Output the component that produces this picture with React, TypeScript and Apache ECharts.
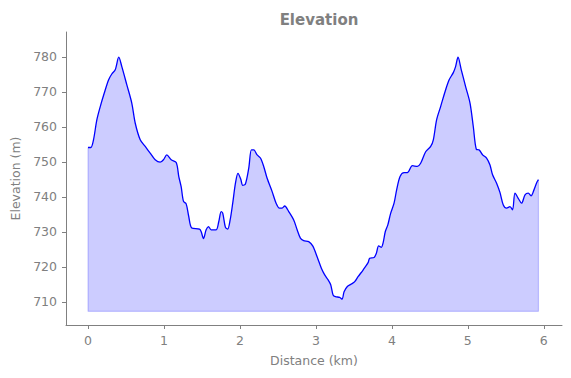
import React, { useEffect, useRef } from "react";
import * as echarts from "echarts";

const distanceKm = [
  0.0, 0.037, 0.072, 0.116, 0.161, 0.213, 0.27, 0.313, 0.358, 0.405, 0.445, 0.511, 0.576, 0.621, 0.687,
  0.753, 0.818, 0.884, 0.95, 0.993, 1.037, 1.095, 1.161, 1.195, 1.226, 1.257, 1.292, 1.326, 1.366, 1.467,
  1.489, 1.52, 1.555, 1.586, 1.621, 1.687, 1.721, 1.753, 1.774, 1.809, 1.839, 1.871, 1.905, 1.941, 1.974,
  2.01, 2.037, 2.072, 2.116, 2.151, 2.182, 2.226, 2.27, 2.313, 2.358, 2.424, 2.476, 2.52, 2.555, 2.589,
  2.642, 2.708, 2.753, 2.796, 2.839, 2.905, 2.958, 3.016, 3.072, 3.116, 3.161, 3.195, 3.226, 3.257, 3.313,
  3.345, 3.371, 3.414, 3.467, 3.511, 3.555, 3.621, 3.687, 3.708, 3.766, 3.796, 3.826, 3.862, 3.884, 3.914,
  3.947, 3.984, 4.029, 4.063, 4.108, 4.161, 4.204, 4.27, 4.336, 4.379, 4.445, 4.511, 4.546, 4.589, 4.642,
  4.708, 4.753, 4.809, 4.839, 4.871, 4.914, 4.971, 5.029, 5.072, 5.112, 5.151, 5.195, 5.247, 5.292, 5.326,
  5.379, 5.424, 5.467, 5.511, 5.555, 5.589, 5.621, 5.664, 5.708, 5.753, 5.796, 5.832, 5.871, 5.908, 5.93,
];

const elevationM = [
  754.1, 754.1, 756.3, 762.0, 765.8, 769.6, 773.4, 775.1, 776.3, 779.9, 777.2, 772.0, 766.8, 761.1, 756.3,
  754.4, 752.5, 750.6, 749.9, 750.6, 752.0, 750.6, 749.8, 745.8, 742.9, 738.7, 738.0, 734.4, 731.1, 730.8,
  730.1, 728.1, 730.6, 731.5, 730.6, 730.6, 732.9, 735.8, 735.3, 731.3, 730.8, 733.4, 738.2, 743.9, 746.7,
  745.1, 743.3, 743.7, 748.2, 753.4, 753.4, 752.0, 751.1, 748.7, 745.3, 741.5, 738.2, 736.8, 736.8, 737.4,
  735.8, 733.4, 730.6, 728.2, 727.5, 727.2, 726.0, 722.9, 719.6, 717.7, 716.3, 714.9, 712.0, 711.5, 711.3,
  710.8, 712.9, 714.4, 715.1, 715.8, 717.2, 719.1, 721.2, 722.5, 722.7, 723.9, 726.0, 725.6, 726.8, 730.1,
  732.0, 735.3, 738.2, 742.0, 745.8, 746.9, 746.9, 748.9, 748.7, 749.6, 752.9, 754.4, 756.3, 762.0, 765.8,
  770.6, 773.4, 775.5, 777.2, 779.9, 776.3, 771.5, 766.8, 760.1, 753.6, 753.4, 752.0, 751.1, 749.1, 746.3,
  743.9, 741.2, 737.7, 736.8, 737.2, 736.3, 741.1, 739.6, 738.2, 740.6, 741.1, 740.3, 742.0, 744.1, 744.9,
];

const fillBase = 707.3;
const xTicks = [0, 1, 2, 3, 4, 5, 6];
const yTicks = [710, 720, 730, 740, 750, 760, 770, 780];

const FONT = "DejaVu Sans";
const GRAY = "#808080";

export default function App() {
  const ref = useRef<HTMLDivElement>(null);

  useEffect(() => {
    if (!ref.current) return;
    const chart = echarts.init(ref.current, undefined, { renderer: "svg" });
    const pts = distanceKm.map((d, i) => [d, elevationM[i]]);
    const n = distanceKm.length;
    const outline = [
      [distanceKm[0], elevationM[0]],
      [distanceKm[0], fillBase],
      [distanceKm[n - 1], fillBase],
      [distanceKm[n - 1], elevationM[n - 1]],
    ];
    chart.setOption({
      animation: false,
      title: {
        text: "Elevation",
        left: 314,
        top: 7,
        textAlign: "center",
        textStyle: { fontFamily: FONT, fontSize: 15, fontWeight: "bold", color: GRAY },
      },
      grid: { left: 66, right: 9, top: 32, bottom: 53, containLabel: false },
      xAxis: {
        type: "value",
        min: -0.29,
        max: 6.24,
        name: "Distance (km)",
        nameLocation: "middle",
        nameGap: 29,
        nameTextStyle: { fontFamily: FONT, fontSize: 12.5, color: GRAY },
        splitLine: { show: false },
        axisLine: { onZero: false, lineStyle: { color: GRAY, width: 1 } },
        axisTick: { show: true, length: 4, lineStyle: { color: GRAY }, customValues: xTicks },
        axisLabel: { fontFamily: FONT, fontSize: 12.5, color: GRAY, margin: 9, customValues: xTicks },
      },
      yAxis: {
        type: "value",
        min: 703.4,
        max: 787.1,
        name: "Elevation (m)",
        nameLocation: "middle",
        nameGap: 42,
        nameRotate: 90,
        nameTextStyle: { fontFamily: FONT, fontSize: 12.5, color: GRAY },
        splitLine: { show: false },
        axisLine: { show: true, onZero: false, lineStyle: { color: GRAY, width: 1 } },
        axisTick: { show: true, length: 4, lineStyle: { color: GRAY }, customValues: yTicks },
        axisLabel: { fontFamily: FONT, fontSize: 12.5, color: GRAY, margin: 9, customValues: yTicks },
      },
      series: [
        {
          type: "line",
          data: outline,
          symbol: "none",
          silent: true,
          z: 1,
          lineStyle: { color: "rgba(0,0,255,0.2)", width: 1.2 },
        },
        {
          type: "line",
          data: pts,
          symbol: "none",
          smooth: 0.3,
          z: 2,
          lineStyle: { color: "#0000ff", width: 1.3 },
          areaStyle: { color: "rgba(0,0,255,0.2)", origin: fillBase, opacity: 1 },
        },
      ],
    });
    return () => chart.dispose();
  }, []);

  return <div ref={ref} style={{ width: 571, height: 378, position: "absolute", left: 0, top: 0 }} />;
}
